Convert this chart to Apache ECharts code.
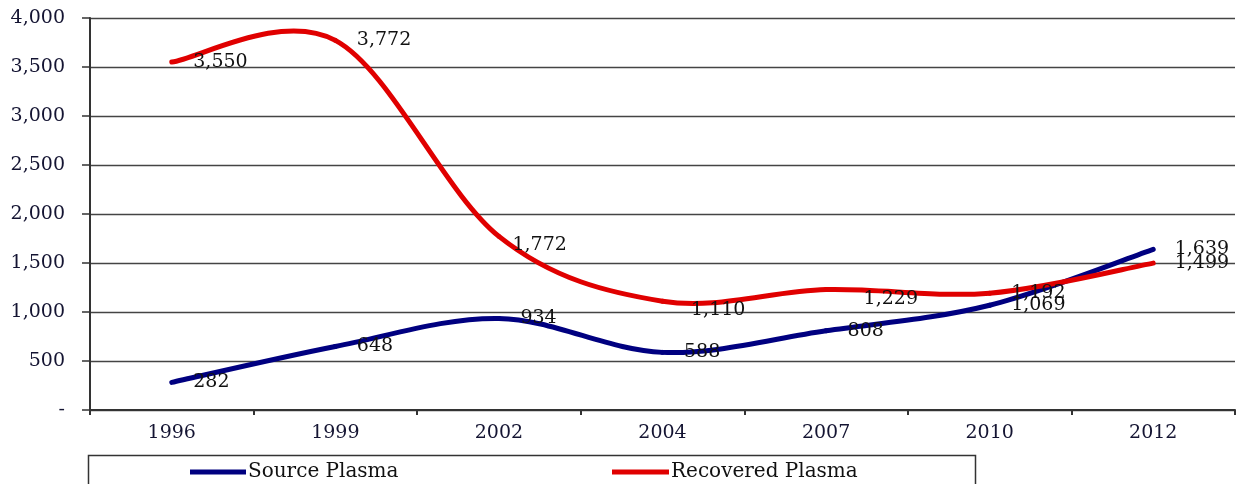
<!DOCTYPE html>
<html>
<head>
<meta charset="utf-8">
<script src="https://cdn.jsdelivr.net/npm/echarts@6/dist/echarts.min.js"></script>
<style>
html,body{margin:0;padding:0;background:#fff;}
#c{width:1243px;height:484px;}
</style>
</head>
<body>
<div id="c"></div>
<script>
const categories = ['1996','1999','2002','2004','2007','2010','2012'];
const sourcePlasma = [282, 648, 934, 588, 808, 1069, 1639];
const recoveredPlasma = [3550, 3772, 1772, 1110, 1229, 1192, 1499];

const fontFamily = '"DejaVu Serif", "Liberation Serif", serif';
const fmt = v => v === 0 ? '-' : v.toLocaleString('en-US');
const BLUE = '#000080', RED = '#e00000';

// label nudges (like manually moved labels in the original)
const labelNudge = {
  'Recovered Plasma': {2: [-8, 9], 3: [7, 9], 4: [16, 10]}
};

function labelSeries(name, values, color) {
  const nudges = labelNudge[name] || {};
  return {
    name, type: 'line', data: values.map((v, i) => ({
      value: v,
      label: nudges[i] ? {offset: nudges[i]} : undefined
    })),
    symbol: 'circle', symbolSize: 1, showSymbol: true,
    itemStyle: {color: 'rgba(0,0,0,0)'},
    lineStyle: {width: 0, opacity: 0},
    label: {
      show: true, position: 'right', distance: 21,
      fontFamily, fontSize: 19, color: '#111',
      formatter: p => p.value.toLocaleString('en-US')
    },
    z: 10
  };
}

function curveSeries(name, values, color, z) {
  const n = values.length;
  return {
    name: name + ' curve', type: 'custom', coordinateSystem: 'cartesian2d',
    data: values.map((v, i) => [i, v]), encode: {x: 0, y: 1}, silent: true, z,
    renderItem: (params, api) => {
      const i = params.dataIndex;
      if (i >= n - 1) return null;
      const P = k => { k = Math.max(0, Math.min(n - 1, k)); return api.coord([k, values[k]]); };
      const p0 = P(i - 1), p1 = P(i), p2 = P(i + 1), p3 = P(i + 2);
      const t = 1 / 6;
      return {
        type: 'bezierCurve',
        shape: {
          x1: p1[0], y1: p1[1], x2: p2[0], y2: p2[1],
          cpx1: p1[0] + (p2[0] - p0[0]) * t, cpy1: p1[1] + (p2[1] - p0[1]) * t,
          cpx2: p2[0] - (p3[0] - p1[0]) * t, cpy2: p2[1] - (p3[1] - p1[1]) * t
        },
        style: {stroke: color, lineWidth: 5, fill: 'none', lineCap: 'round'}
      };
    }
  };
}

const chart = echarts.init(document.getElementById('c'), null, {renderer: 'canvas'});
chart.setOption({
  animation: false,
  backgroundColor: '#fff',
  textStyle: {fontFamily},
  grid: {left: 90, right: 8, top: 18, bottom: 74, containLabel: false},
  legend: [
    {data: [{name: 'Source Plasma', itemStyle: {color: BLUE, opacity: 1}}], left: 185, top: 457,
     itemWidth: 56, itemHeight: 5, icon: 'rect', itemGap: 0,
     textStyle: {fontFamily, fontSize: 20, color: '#111', padding: [0, 0, 0, -3]}},
    {data: [{name: 'Recovered Plasma', itemStyle: {color: RED, opacity: 1}}], left: 607, top: 457,
     itemWidth: 57, itemHeight: 5, icon: 'rect', itemGap: 0,
     textStyle: {fontFamily, fontSize: 20, color: '#111', padding: [0, 0, 0, -3]}}
  ],
  graphic: [{
    type: 'rect', shape: {x: 88.5, y: 455.5, width: 887, height: 40},
    style: {fill: 'none', stroke: '#333', lineWidth: 1.5}, z: -1
  }],
  xAxis: {
    type: 'category', data: categories, boundaryGap: true,
    axisLine: {lineStyle: {color: '#333', width: 2}},
    axisTick: {show: true, inside: false, length: 5, lineStyle: {color: '#333', width: 2}},
    axisLabel: {fontFamily, fontSize: 19, color: '#141432', margin: 14}
  },
  yAxis: {
    type: 'value', min: 0, max: 4000, interval: 500,
    axisLine: {show: true, lineStyle: {color: '#333', width: 2}},
    axisTick: {show: true, length: 8, lineStyle: {color: '#333', width: 1.5}},
    axisLabel: {fontFamily, fontSize: 19, color: '#141432', margin: 25, formatter: fmt},
    splitLine: {show: true, lineStyle: {color: '#444', width: 1.3}}
  },
  series: [
    curveSeries('Source Plasma', sourcePlasma, BLUE, 3),
    curveSeries('Recovered Plasma', recoveredPlasma, RED, 4),
    labelSeries('Source Plasma', sourcePlasma, BLUE),
    labelSeries('Recovered Plasma', recoveredPlasma, RED)
  ]
});
</script>
</body>
</html>
